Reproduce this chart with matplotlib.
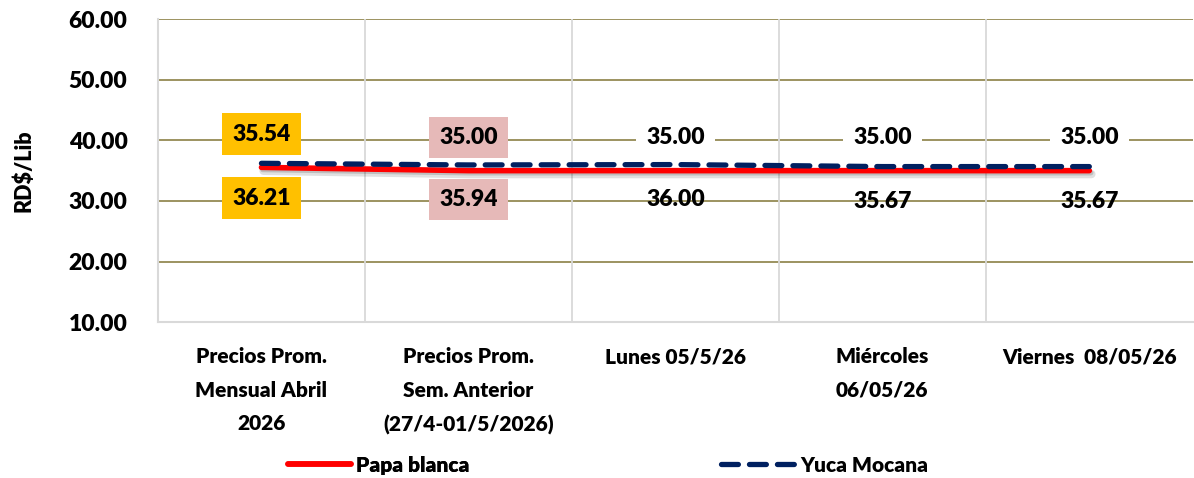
import matplotlib
matplotlib.use("Agg")
import matplotlib.pyplot as plt
import matplotlib.patheffects as pe
from matplotlib.lines import Line2D

plt.rcParams['font.family'] = ['Lato', 'DejaVu Sans']
W = 'heavy'

categories = ["Precios Prom.\nMensual Abril\n2026", "Precios Prom.\nSem. Anterior\n(27/4-01/5/2026)",
              "Lunes 05/5/26", "Miércoles\n06/05/26", "Viernes  08/05/26"]
papa = [35.54, 35.00, 35.00, 35.00, 35.00]
yuca = [36.21, 35.94, 36.00, 35.67, 35.67]
label_bg = ["#FFC000", "#E6B9B8", "white", "white", "white"]
below_bg = ["#FFC000", "#E6B9B8", None, None, None]
yticks = [10, 20, 30, 40, 50, 60]

fig = plt.figure(figsize=(11.94, 4.78), dpi=100)
ax = fig.add_axes([0.1323, 0.326, 0.8667, 0.634])
x = list(range(len(categories)))

ax.set_xlim(-0.5, 4.5)
ax.set_ylim(10, 60)
for yv in yticks[1:]:
    ax.axhline(yv, color="#948A54", lw=1.3, zorder=1)
for xb in [0.5, 1.5, 2.5, 3.5]:
    ax.axvline(xb, color="#D9D9D9", lw=1.3, zorder=1)
for s in ["top", "right"]:
    ax.spines[s].set_visible(False)
for s in ["left", "bottom"]:
    ax.spines[s].set_color("#D9D9D9")
    ax.spines[s].set_linewidth(1.5)

ax.plot(x, papa, color="#FF0000", lw=4, solid_capstyle="round", zorder=3,
        path_effects=[pe.SimpleLineShadow(offset=(1.5, -2.5), shadow_color="black", alpha=0.12, linewidth=6),
                      pe.SimpleLineShadow(offset=(1, -1.5), shadow_color="black", alpha=0.15), pe.Normal()])
ax.plot(x, yuca, color="#002060", lw=3.8, dashes=(3.2, 2.1), dash_capstyle="round", zorder=4)

for i in x:
    ax.annotate(f"{papa[i]:.2f}", (i, papa[i]), xytext=(0, 24), textcoords="offset points",
                ha="center", va="center", fontsize=16.5, fontweight=W, zorder=5,
                bbox=dict(boxstyle="square,pad=0.45", fc=label_bg[i], ec="none"))
    kw = {}
    if below_bg[i]:
        kw["bbox"] = dict(boxstyle="square,pad=0.45", fc=below_bg[i], ec="none")
    ax.annotate(f"{yuca[i]:.2f}", (i, yuca[i]), xytext=(0, -25), textcoords="offset points",
                ha="center", va="center", fontsize=16.5, fontweight=W, zorder=5, **kw)

ax.set_yticks(yticks)
ax.set_yticklabels([f"{v:.2f}" for v in yticks], fontsize=16.5, fontweight=W)
ax.set_xticks(x)
ax.set_xticklabels(categories, fontsize=15, fontweight=W, linespacing=1.9, va="top")
ax.tick_params(axis="both", length=0)
ax.tick_params(axis="y", pad=22)
ax.tick_params(axis="x", pad=18)
ax.set_ylabel("RD$/Lib", fontsize=15.5, fontweight=W)
ax.yaxis.set_label_coords(-0.119, 0.5)

h1 = Line2D([], [], color="#FF0000", lw=4, solid_capstyle="round")
h2 = Line2D([], [], color="#002060", lw=3.8, dashes=(3.2, 2.1), dash_capstyle="round")
prop = {'weight': W, 'size': 15}
leg1 = fig.legend([h1], ["Papa blanca"], loc="center left", bbox_to_anchor=(288/1194, 0.027), frameon=False,
                  prop=prop, handlelength=3.0, handletextpad=0.25, borderpad=0, borderaxespad=0)
leg2 = fig.legend([h2], ["Yuca Mocana"], loc="center left", bbox_to_anchor=(721/1194, 0.027), frameon=False,
                  prop=prop, handlelength=3.55, handletextpad=0.25, borderpad=0, borderaxespad=0)
fig.add_artist(leg1)

fig.savefig("out.png", dpi=100)
